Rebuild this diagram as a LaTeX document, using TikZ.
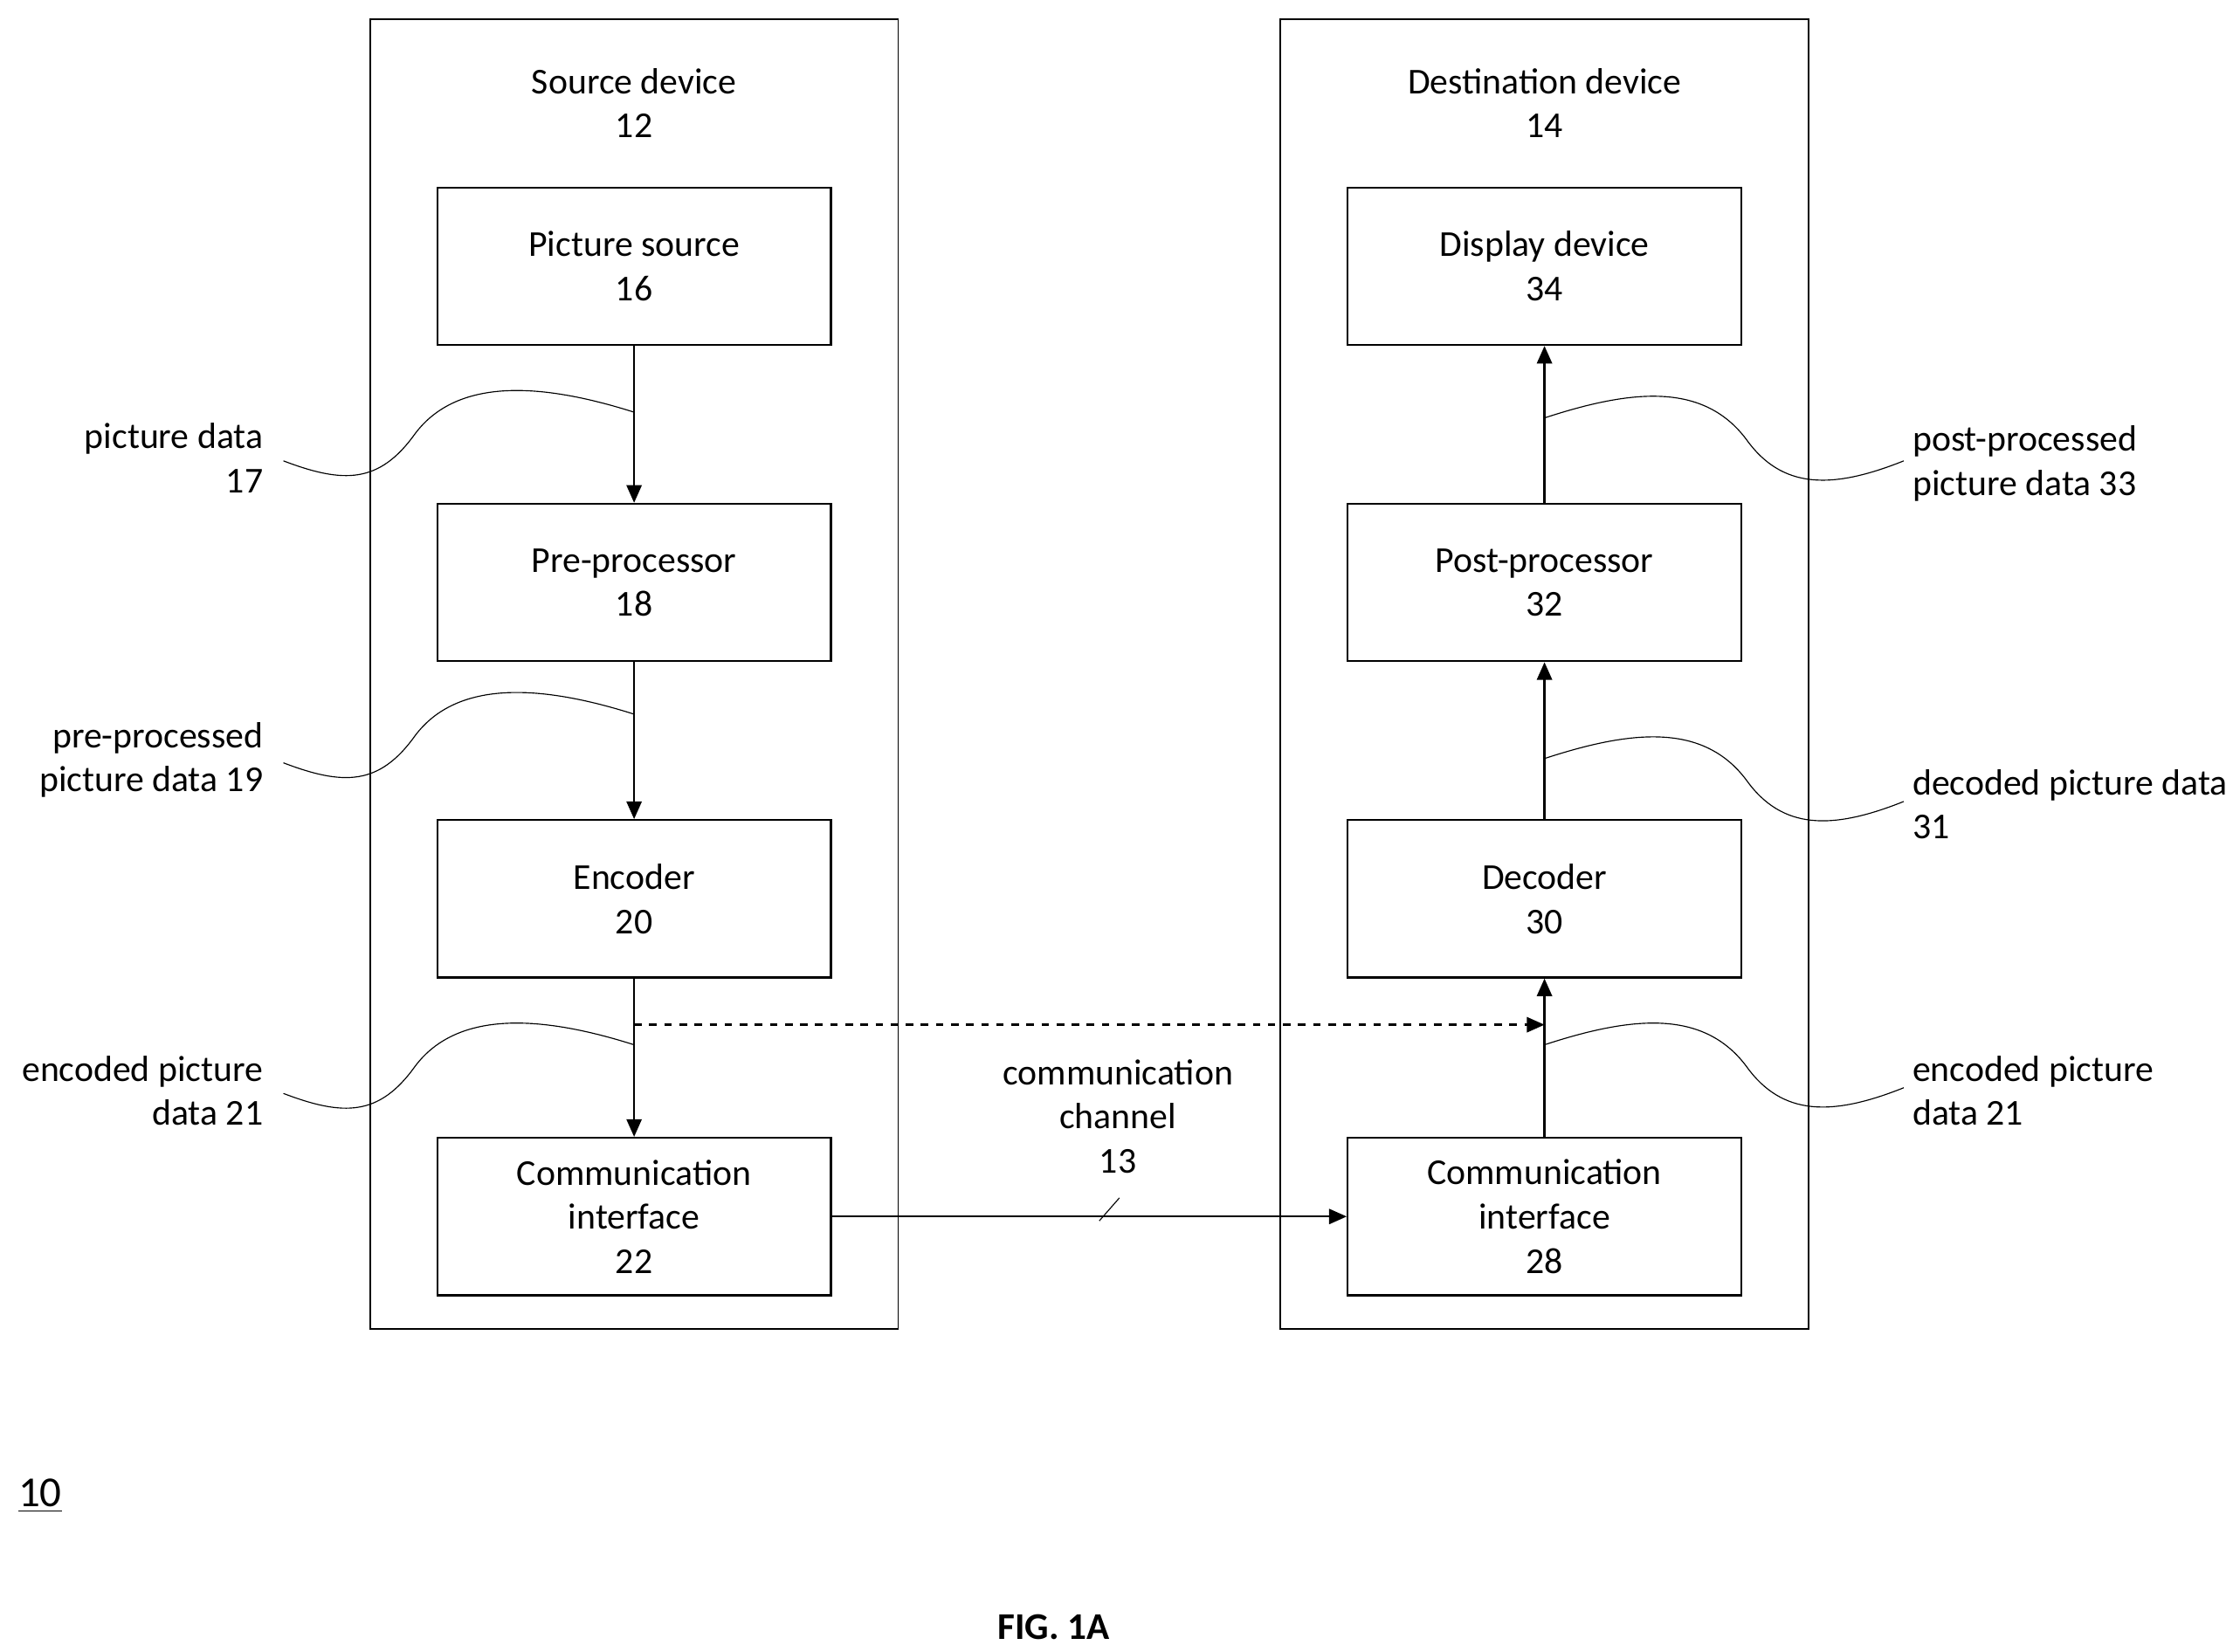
\documentclass[tikz,border=0pt]{standalone}
\usepackage{fontspec}
\setmainfont{Carlito}
\usetikzlibrary{positioning}
\usetikzlibrary{arrows.meta}
\usetikzlibrary{calc}

\tikzset{
  blk/.style={draw, thick, minimum width=5.5cm, minimum height=2.2cm, align=center, font=\fontsize{14.5}{17.6}\selectfont},
  dev/.style={draw, semithick, minimum width=7.38cm, minimum height=18.3cm},
  lbl/.style={align=center, font=\fontsize{14.5}{17.6}\selectfont},
  flow/.style={thick, -{Triangle[length=7pt,width=6pt]}},
}

\begin{document}
\begin{tikzpicture}[x=0.02cm, y=-0.02cm]
  \useasboundingbox (0,0) rectangle (1560,1154);
  % devices
  \node[dev] (src) at (443,471) {};
  \node[dev] (dst) at (1079,471) {};
  \node[lbl] (srct) at (443,72) {Source device\\12};
  \node[lbl] (dstt) at (1079,72) {Destination device\\14};
  % source chain
  \node[blk] (pic) at (443,186) {Picture source\\16};
  \node[blk] (pre) at (443,407) {Pre-processor\\18};
  \node[blk] (enc) at (443,628) {Encoder\\20};
  \node[blk] (cis) at (443,850) {Communication\\interface\\22};
  % destination chain
  \node[blk] (disp) at (1079,186) {Display device\\34};
  \node[blk] (post) at (1079,407) {Post-processor\\32};
  \node[blk] (dec) at (1079,628) {Decoder\\30};
  \node[blk] (cid) at (1079,850) {Communication\\interface\\28};
  % arrows
  \draw[flow] (pic) -- (pre);
  \draw[flow] (pre) -- (enc);
  \draw[flow] (enc) -- (cis);
  \draw[flow] (cid) -- (dec);
  \draw[flow] (dec) -- (post);
  \draw[flow] (post) -- (disp);
  \draw[flow] (cis) -- (cid);
  \coordinate (dsh) at (443,716);
  \draw[thick, dashed, -{Triangle[length=7pt,width=6pt]}] (dsh) -- (1079,716);
  \coordinate (tk) at (775,845);
  \draw (tk) ++(-7,8) -- ++(14,-16);
  \node[lbl] (chan) at (781,780) {communication\\channel\\13};
  % leaders, source side
  \foreach \y/\t in {288/{picture data\\17}, 499/{pre-processed\\picture data 19}, 730/{encoded picture\\data 21}}{
    \draw (443,\y) .. controls (380,\y-20) and (320,\y-25) .. (290,\y+15)
      .. controls (265,\y+50) and (240,\y+50) .. (198,\y+34);
    \node[lbl, align=right, anchor=east] at (190,\y+32) {\t};
  }
  % leaders, destination side
  \foreach \y/\t in {292/{post-processed\\picture data 33}, 530/{decoded picture data\\31}, 730/{encoded picture\\data 21}}{
    \draw (1079,\y) .. controls (1140,\y-20) and (1190,\y-25) .. (1220,\y+15)
      .. controls (1245,\y+50) and (1280,\y+50) .. (1330,\y+30);
    \node[lbl, align=left, anchor=west] at (1330,\y+32) {\t};
  }
  \node[lbl, font=\fontsize{17}{20}\selectfont] (ten) at (28,1045) {\underline{10}};
  \node[lbl, font=\fontsize{15}{17}\selectfont\bfseries] (fig) at (736,1137) {FIG. 1A};
\end{tikzpicture}
\end{document}
